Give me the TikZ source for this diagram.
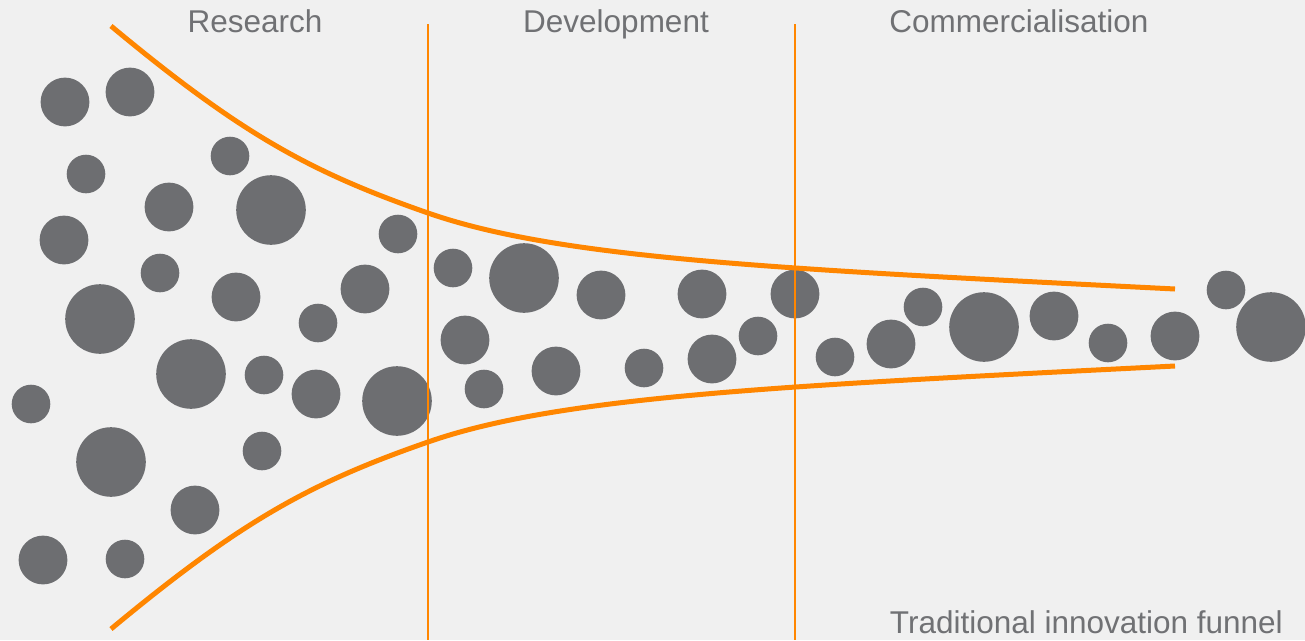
\documentclass[tikz,border=0pt]{standalone}
\usepackage{fontspec}
\setmainfont{Liberation Sans}
\usepackage{tikz}
\definecolor{paper}{RGB}{240,240,240}
\definecolor{ideagrey}{RGB}{109,110,113}
\definecolor{labelgrey}{RGB}{112,113,116}
\definecolor{funnelorange}{RGB}{255,134,0}
\tikzset{
  idea/.style={fill=ideagrey},
  funnelwall/.style={draw=funnelorange,line width=5pt},
  stageline/.style={draw=funnelorange,line width=1.2pt},
  stagelabel/.style={font=\fontsize{31.5}{36}\selectfont,text=labelgrey,inner sep=0pt,anchor=base},
}

\begin{document}
\begin{tikzpicture}[x=1pt,y=-1pt]
  % page
  \fill[paper] (0,0) rectangle (1305,640);
  \useasboundingbox (0,0) rectangle (1305,640);
  % ideas: small, medium, large
  \foreach \x/\y in {86/174,230/156,398/234,160/273,318/323,264/375,31/404,262/451,125/559,
                     453/268,484/389,644/368,758/336,835/357,923/307,1108/343,1226/290}
    \fill[idea] (\x,\y) circle (19.3pt);
  \foreach \x/\y in {65/102,130/92,169/207,64/240,236/297,365/289,316/394,195/510,43/560,
                     601/295,702/294,795/294,465/340,556/371,712/359,891/344,1054/316,1175/336}
    \fill[idea] (\x,\y) circle (24.4pt);
  \foreach \x/\y in {271/210,100/319,191/374,397/401,111/462,524/278,984/327,1271/327}
    \fill[idea] (\x,\y) circle (34.8pt);
  % funnel walls
  \draw[funnelwall] (111,26) .. controls (241,134) and (310,172) .. (428,213)
                             .. controls (560,259) and (780,269) .. (1175,289);
  \draw[funnelwall] (111,629) .. controls (241,521) and (310,483) .. (428,442)
                              .. controls (560,396) and (780,386) .. (1175,366);
  % stage borders
  \draw[stageline] (428,24) -- (428,640);
  \draw[stageline] (795,24) -- (795,640);
  % headings
  \node[stagelabel] (research) at (255,32) {Research};
  \node[stagelabel] (development) at (616,32) {Development};
  \node[stagelabel] (commercial) at (1019,32) {Commercialisation};
  \node[stagelabel,anchor=base east] (caption) at (1283,633) {Traditional innovation funnel};
\end{tikzpicture}
\end{document}
